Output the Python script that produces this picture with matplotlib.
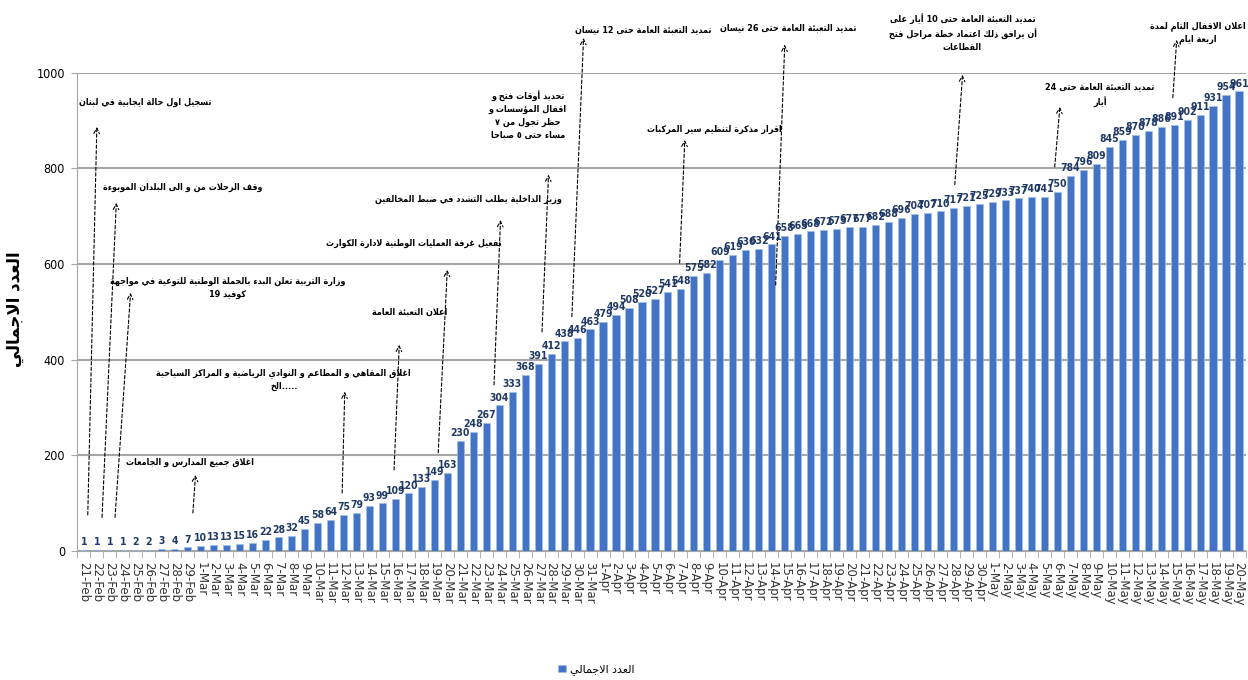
import re
import matplotlib
matplotlib.use('Agg')
import matplotlib.pyplot as plt
from matplotlib import font_manager as fm
import numpy as np

# --- data -------------------------------------------------------------
months = [('Feb', 21, 29), ('Mar', 1, 31), ('Apr', 1, 30), ('May', 1, 20)]
dates = ['%d-%s' % (d, m) for m, a, b in months for d in range(a, b + 1)]

values = [1, 1, 1, 1, 2, 2, 3, 4, 7,
          10, 13, 13, 15, 16, 22, 28, 32, 45, 58, 64, 75, 79, 93, 99, 109,
          120, 133, 149, 163, 230, 248, 267, 304, 333, 368, 391, 412, 438,
          446, 463,
          479, 494, 508, 520, 527, 541, 548, 575, 582, 609, 619, 630, 632,
          641, 658, 663, 668, 672, 673, 677, 677, 682, 688, 696, 704, 707,
          710, 717, 721, 725,
          729, 733, 737, 740, 741, 750, 784, 796, 809, 845, 859, 870, 878,
          886, 891, 902, 911, 931, 954, 961]

series_name = 'العدد الاجمالي'
y_title = 'العدد الاجمالي'

events = [
    'تسجيل اول حالة ايجابية في لبنان',
    'وقف الرحلات من و الى البلدان الموبوءة',
    'وزارة التربية تعلن البدء بالحملة الوطنية للتوعية في مواجهة\nكوفيد 19',
    'اغلاق جميع المدارس و الجامعات',
    'اغلاق المقاهي و المطاعم و النوادي الرياضية و المراكز السياحية\n.....الخ',
    'اعلان التعبئة العامة',
    'تفعيل غرفة العمليات الوطنية لادارة الكوارث',
    'وزير الداخلية يطلب التشدد في ضبط المخالفين',
    'تحديد أوقات فتح و\nاقفال المؤسسات و\nحظر تجول من ٧\nمساءً حتى ٥ صباحا',
    'تمديد التعبئة العامة حتى 12 نيسان',
    'اقرار مذكرة لتنظيم سير المركبات',
    'تمديد التعبئة العامة حتى 26 نيسان',
    'تمديد التعبئة العامة حتى 10 أيار على\nأن يرافق ذلك اعتماد خطة مراحل فتح\nالقطاعات',
    'تمديد التعبئة العامة حتى 24\nأيار',
    'اعلان الاقفال التام لمدة\nاربعة ايام',
]

# layout of the callouts: text centre, arrow head, arrow foot (data units)
callout_pos = [
    ((4.7, 937), (1.0, 887), (0.3, 75)),
    ((7.6, 761), (2.5, 728), (1.4, 70)),
    ((11.1, 550), (3.6, 540), (2.4, 70)),
    ((8.2, 184), (8.6, 159), (8.4, 79)),
    ((15.4, 358), (20.1, 333), (19.9, 121)),
    ((25.1, 500), (24.3, 431), (23.9, 169)),
    ((25.4, 644), (28.0, 588), (27.3, 205)),
    ((29.6, 734), (32.1, 692), (31.6, 347)),
    ((34.2, 912), (35.8, 787), (35.3, 458)),
    ((43.1, 1090), (38.5, 1073), (37.6, 490)),
    ((48.6, 881), (46.3, 860), (45.9, 602)),
    ((54.3, 1094), (54.0, 1059), (53.3, 556)),
    ((67.7, 1084), (67.7, 996), (67.1, 766)),
    ((78.3, 954), (75.2, 929), (74.8, 803)),
    ((85.8, 1084), (84.2, 1069), (83.9, 948)),
]

# --- very small arabic shaper (matplotlib does no shaping) -------------
FORMS = {}
_c = 0xFE80
_two = {0x0622, 0x0623, 0x0624, 0x0625, 0x0627, 0x0629, 0x062F, 0x0630,
        0x0631, 0x0632, 0x0648, 0x0649}
for cp in list(range(0x0621, 0x063B)) + list(range(0x0641, 0x064B)):
    n = 1 if cp == 0x0621 else (2 if cp in _two else 4)
    FORMS[chr(cp)] = (_c, n)
    _c += n
LAM_ALEF = {'\u0622': 0xFEF5, '\u0623': 0xFEF7, '\u0625': 0xFEF9, '\u0627': 0xFEFB}


def _kind(c):
    if isinstance(c, tuple):
        return 2
    return FORMS.get(c, (0, 0))[1]


def shape_line(s):
    s = ''.join(c for c in s if not ('\u064B' <= c <= '\u0652'))
    chars = []
    i = 0
    while i < len(s):
        if s[i] == '\u0644' and i + 1 < len(s) and s[i + 1] in LAM_ALEF:
            chars.append(('la', s[i + 1]))
            i += 2
        else:
            chars.append(s[i])
            i += 1
    out = []
    for k, c in enumerate(chars):
        prev = chars[k - 1] if k > 0 else None
        nxt = chars[k + 1] if k + 1 < len(chars) else None
        jp = prev is not None and _kind(prev) == 4 and _kind(c) >= 2
        jn = nxt is not None and _kind(c) == 4 and _kind(nxt) >= 2
        if isinstance(c, tuple):
            out.append(chr(LAM_ALEF[c[1]] + (1 if jp else 0)))
        elif c in FORMS:
            base, n = FORMS[c]
            if n == 1:
                f = 0
            elif n == 2:
                f = 1 if jp else 0
            else:
                f = (3 if jn else 1) if jp else (2 if jn else 0)
            out.append(chr(base + f))
        else:
            out.append(c)
    runs = re.findall(r'[0-9\u0660-\u0669]+|[^0-9\u0660-\u0669]+', ''.join(out))
    runs = [r if r[0].isdigit() else r[::-1] for r in runs]
    return ''.join(runs[::-1])


def ar(s):
    return '\n'.join(shape_line(l) for l in s.split('\n'))


names = {f.name for f in fm.fontManager.ttflist}
ar_font = 'DejaVu Sans Condensed' if 'DejaVu Sans Condensed' in names else 'DejaVu Sans'
num_font = 'Liberation Sans Narrow' if 'Liberation Sans Narrow' in names else ar_font

# --- plot ---------------------------------------------------------------
fig = plt.figure(figsize=(12.48, 6.8), dpi=100)
ax = fig.add_axes([0.062, 0.19, 0.936, 0.703])

x = np.arange(len(values))
bars = ax.bar(x, values, width=0.55, color='#4472C4', edgecolor='#9DC3E6',
              linewidth=0.5, zorder=3)

for i, v in enumerate(values):
    ax.text(i, v + 6, str(v), ha='center', va='bottom', fontsize=7.5,
            color='#1F3864', family=[num_font], stretch='condensed',
            fontweight='bold', zorder=4)

ax.set_xlim(-0.5, len(values) - 0.5)
ax.set_ylim(0, 1000)
ax.set_yticks(range(0, 1001, 200))
ax.grid(axis='y', color='#A6A6A6', linewidth=1.5, zorder=0)
for side in ['top', 'right']:
    ax.spines[side].set_visible(False)
ax.spines['left'].set_color('#A6A6A6')
ax.spines['bottom'].set_color('#A6A6A6')

ax.set_xticks(x)
ax.set_xticklabels(dates, rotation=-90, fontsize=8.5, color='#333333')
ax.set_xticks(np.arange(-0.5, len(values), 1), minor=True)
ax.tick_params(axis='x', which='major', length=0, pad=8)
ax.tick_params(axis='x', which='minor', length=5, color='#A6A6A6')
ax.tick_params(axis='y', length=4, color='#A6A6A6', labelsize=9, pad=5)
for t in ax.get_yticklabels():
    t.set_family([num_font])
    t.set_stretch('condensed')

for txt, (tpos, head, foot) in zip(events, callout_pos):
    ax.annotate('', xy=head, xytext=foot, annotation_clip=False,
                arrowprops=dict(arrowstyle='->', lw=0.8, ls=(0, (3, 2)),
                                color='black', shrinkA=0, shrinkB=0))
    ax.text(tpos[0], tpos[1], ar(txt), ha='center', va='center',
            multialignment='center', fontsize=6.5, fontweight='bold',
            family=[ar_font], stretch='condensed', clip_on=False, zorder=5,
            linespacing=1.5)

fig.text(0.012, 0.545, ar(y_title), rotation=90, ha='center', va='center',
         fontsize=12, fontweight='bold', family=[ar_font])

fig.legend([bars], [ar(series_name)], loc='center',
           bbox_to_anchor=(0.478, 0.015), frameon=False, fontsize=8,
           handlelength=0.7, handleheight=0.7, handletextpad=0.4)

fig.savefig('out.png', dpi=100)
